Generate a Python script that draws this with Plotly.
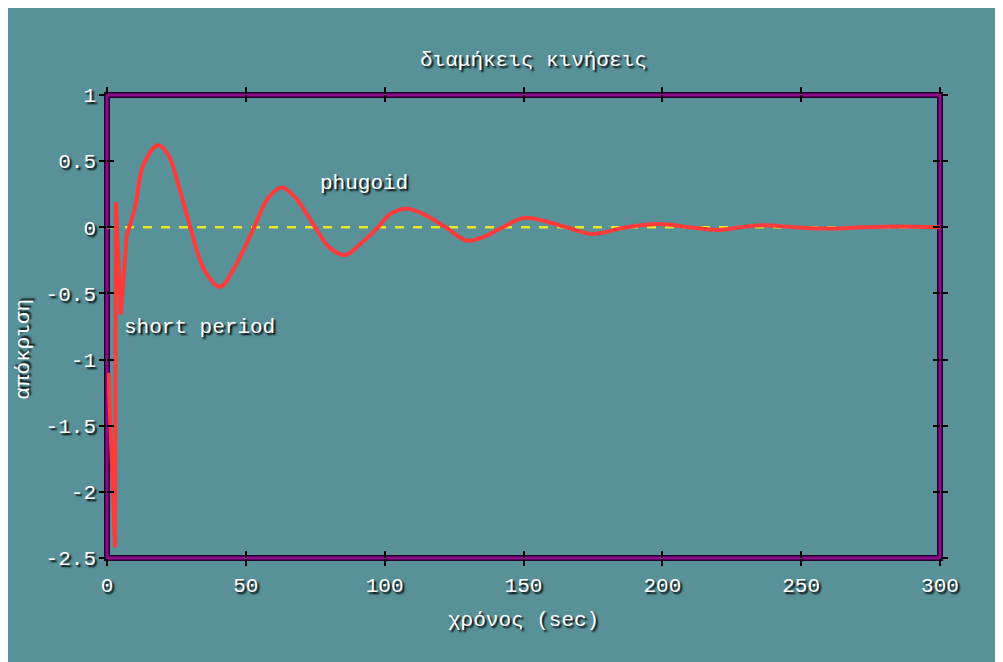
import plotly.graph_objects as go

# ---- data ----
t_short = [0.5, 2.9, 3.2, 5.0, 7.1]
y_short = [-1.10, -2.42, 0.19, -0.66, -0.06]

t_phug = [7.1, 10.1, 13.1, 18.4, 22, 26, 30, 35, 40.7, 46, 53, 58, 63, 68, 75, 80, 85.7,
          91, 97.6, 102, 108, 114, 122, 129.6, 136, 142.6, 150, 157, 165.6, 175, 187,
          199, 210, 220, 228, 236, 248, 260, 272, 285, 300]
y_phug = [-0.06, 0.15, 0.47, 0.62, 0.55, 0.30, 0.0, -0.32, -0.45, -0.30, 0.0, 0.22, 0.30,
          0.22, 0.0, -0.15, -0.21, -0.13, 0.0, 0.10, 0.14, 0.10, 0.0, -0.10, -0.07, 0.0,
          0.07, 0.05, 0.0, -0.05, 0.0, 0.025, 0.0, -0.02, 0.0, 0.015, 0.0, -0.01, 0.0,
          0.006, 0.0]

zero_x = [0, 300]
zero_y = [0, 0]

x_ticks = [0, 50, 100, 150, 200, 250, 300]
x_ticktext = ["0", "50", "100", "150", "200", "250", "300"]
y_ticks = [1, 0.5, 0, -0.5, -1, -1.5, -2, -2.5]
y_ticktext = ["1", "0.5", "0", "-0.5", "-1", "-1.5", "-2", "-2.5"]

title_text = "διαμήκεις κινήσεις"
xlabel = "χρόνος (sec)"
ylabel = "απόκριση"

BG = "#589198"
RED = "#ff3a3a"
FONT = "Liberation Mono, Courier New, monospace"
SHADOW = "2px 2px 2px #000"
FS = 21

fig = go.Figure()
fig.add_trace(go.Scatter(x=zero_x, y=zero_y, mode="lines",
                         line=dict(color="#e6e62a", width=2.5, dash="dash"),
                         showlegend=False, hoverinfo="skip"))
fig.add_trace(go.Scatter(x=t_short, y=y_short, mode="lines", xaxis="x2", yaxis="y2",
                         line=dict(color=RED, width=4), showlegend=False))
fig.add_trace(go.Scatter(x=t_phug, y=y_phug, mode="lines", xaxis="x2", yaxis="y2",
                         line=dict(color=RED, width=4, shape="spline", smoothing=1.0),
                         showlegend=False))

tickfont = dict(family=FONT, size=FS, color="white", shadow=SHADOW)
common_x = dict(range=[0, 300], tickvals=x_ticks, ticktext=x_ticktext,
                showgrid=False, zeroline=False, ticklen=7, tickwidth=2, tickcolor="black")
common_y = dict(range=[-2.5, 1], tickvals=y_ticks, ticktext=y_ticktext,
                showgrid=False, zeroline=False, ticklen=7, tickwidth=2, tickcolor="black")

fig.update_layout(
    width=1003, height=662,
    paper_bgcolor=BG, plot_bgcolor=BG,
    margin=dict(l=99, r=71, t=87, b=112),
    font=dict(family=FONT, size=FS, color="white", shadow=SHADOW),
    xaxis=dict(**common_x, ticks="inside", mirror="ticks", tickfont=tickfont,
               ticklabelstandoff=12),
    yaxis=dict(**common_y, ticks="inside", mirror="ticks", tickfont=tickfont,
               ticklabelstandoff=10),
    xaxis2=dict(**common_x, ticks="outside", mirror="ticks", overlaying="x",
                matches="x", showticklabels=False, anchor="y2"),
    yaxis2=dict(**common_y, ticks="outside", mirror="ticks", overlaying="y",
                matches="y", showticklabels=False, anchor="x2"),
    shapes=[
        dict(type="rect", xref="x domain", yref="y domain", x0=0, x1=1, y0=0, y1=1,
             line=dict(color="#200028", width=6), layer="below"),
        dict(type="rect", xref="x domain", yref="y domain", x0=0, x1=1, y0=0, y1=1,
             line=dict(color="#8c0c8c", width=3), layer="below"),
    ],
    annotations=[
        dict(text=title_text, xref="paper", yref="paper", x=0.512, y=1.0, yshift=35,
             showarrow=False, xanchor="center", yanchor="middle",
             font=dict(family=FONT, size=FS, color="white", shadow=SHADOW)),
        dict(text=xlabel, xref="paper", yref="paper", x=0.5, y=0, yshift=-62,
             showarrow=False, xanchor="center", yanchor="middle",
             font=dict(family=FONT, size=FS, color="white", shadow=SHADOW)),
        dict(text=ylabel, xref="paper", yref="paper", x=0, xshift=-83, y=0.45,
             showarrow=False, xanchor="center", yanchor="middle", textangle=-90,
             font=dict(family=FONT, size=FS, color="white", shadow=SHADOW)),
        dict(text="phugoid", x=76, y=0.33, xref="x", yref="y", showarrow=False,
             xanchor="left", yanchor="middle",
             font=dict(family=FONT, size=FS, color="white", shadow=SHADOW)),
        dict(text="short period", x=5.4, y=-0.76, xref="x", yref="y", showarrow=False,
             xanchor="left", yanchor="middle",
             font=dict(family=FONT, size=FS, color="white", shadow=SHADOW)),
    ],
)

fig.write_html("out.html")
